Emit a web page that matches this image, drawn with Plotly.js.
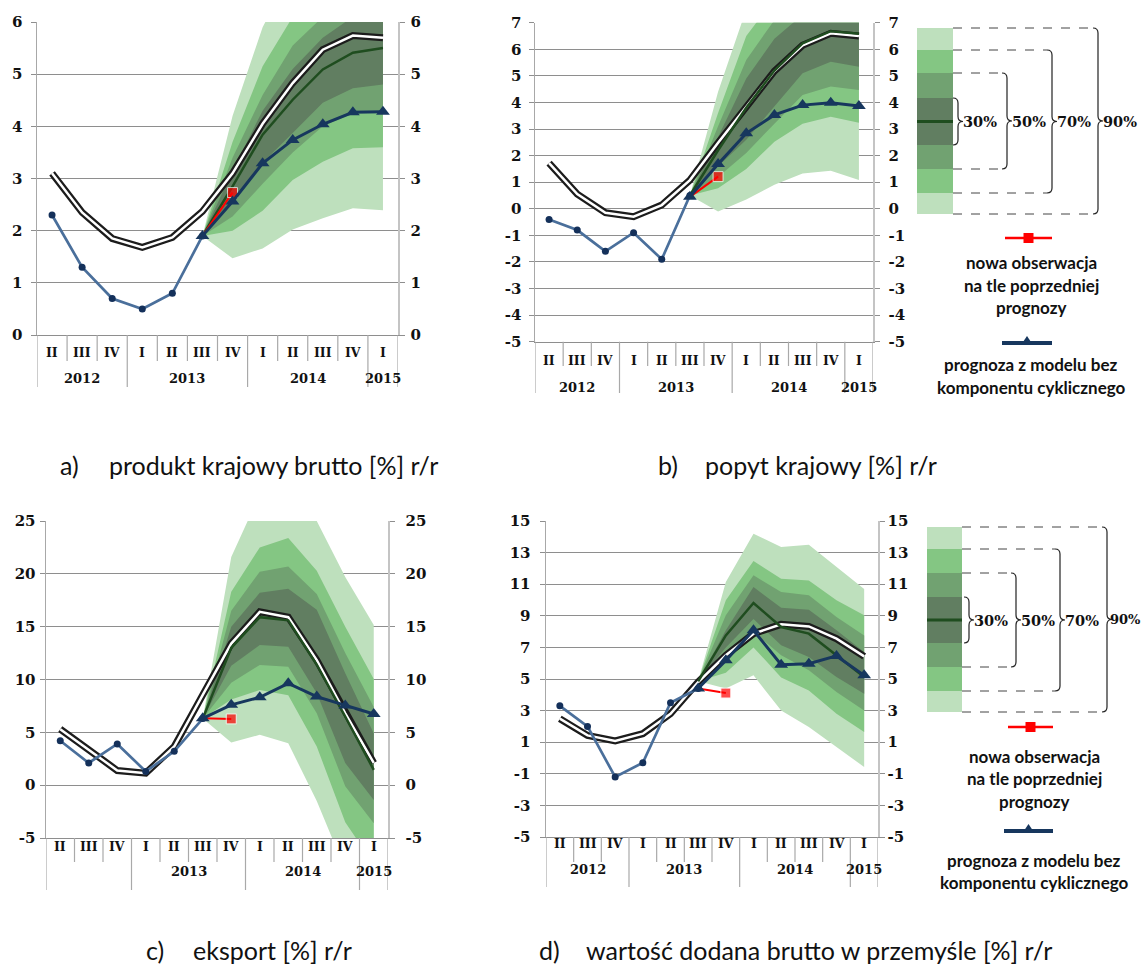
<!DOCTYPE html>
<html><head><meta charset="utf-8">
<script src="https://cdn.plot.ly/plotly-3.0.1.min.js"></script>
<style>html,body{margin:0;padding:0;background:#fff;}#chart{width:1141px;height:973px;}</style>
</head><body><div id="chart"></div>
<script>
// ---------- categories ----------
const quarterLabels = ['II','III','IV','I','II','III','IV','I','II','III','IV','I'];
const quarterYears  = ['2012','2012','2012','2013','2013','2013','2013','2014','2014','2014','2014','2015'];
const allX   = [0,1,2,3,4,5,6,7,8,9,10,11];
const histX  = [0,1,2,3,4,5];
const fcX    = [5,6,7,8,9,10,11];
const newObsX = [5,6];

// ---------- tick values per panel ----------
const gdpTicks = [0,1,2,3,4,5,6];
const ddTicks  = [-5,-4,-3,-2,-1,0,1,2,3,4,5,6,7];
const exTicks  = [-5,0,5,10,15,20,25];
const inTicks  = [-5,-3,-1,1,3,5,7,9,11,13,15];

// ---------- a) GDP ----------
const gdpHist    = [2.3, 1.3, 0.7, 0.5, 0.8, 1.9];
const gdpPrev    = [3.1, 2.35, 1.85, 1.68, 1.87, 2.37, 3.1, 4.05, 4.83, 5.47, 5.74, 5.7];
const gdpCentral = [1.9, 2.85, 3.84, 4.51, 5.09, 5.41, 5.5];
const gdpNoCycle = [1.9, 2.56, 3.29, 3.74, 4.04, 4.27, 4.28];
const gdpNewObs  = [1.9, 2.73];
const gdpLo90 = [1.9, 1.47, 1.66, 2.02, 2.24, 2.43, 2.39];
const gdpLo70 = [1.9, 2.0, 2.38, 2.97, 3.32, 3.58, 3.6];
const gdpLo50 = [1.9, 2.27, 2.9, 3.5, 4.0, 4.25, 4.3];
const gdpLo30 = [1.9, 2.55, 3.3, 3.87, 4.45, 4.73, 4.8];
const gdpHi30 = [1.9, 3.15, 4.3, 5.1, 5.7, 6.1, 6.2];
const gdpHi50 = [1.9, 3.4, 4.6, 5.55, 6.1, 6.6, 6.7];
const gdpHi70 = [1.9, 3.7, 5.15, 6.1, 6.9, 7.3, 7.4];
const gdpHi90 = [1.9, 4.2, 5.9, 7.0, 7.9, 8.4, 8.6];

// ---------- b) domestic demand ----------
const ddHist    = [-0.4, -0.8, -1.6, -0.9, -1.9, 0.5];
const ddPrev    = [1.72, 0.55, -0.15, -0.3, 0.14, 1.08, 2.48, 3.82, 5.18, 6.15, 6.6, 6.5];
const ddCentral = [0.5, 2.2, 3.8, 5.2, 6.22, 6.68, 6.58];
const ddNoCycle = [0.45, 1.68, 2.84, 3.53, 3.9, 3.99, 3.87];
const ddNewObs  = [0.45, 1.21];
const ddLo90 = [0.5, -0.1, 0.35, 0.9, 1.33, 1.43, 1.08];
const ddLo70 = [0.5, 0.77, 1.5, 2.52, 3.2, 3.46, 3.24];
const ddLo50 = [0.5, 1.2, 2.1, 3.2, 4.28, 4.6, 4.47];
const ddLo30 = [0.5, 1.6, 2.6, 3.84, 5.1, 5.53, 5.34];
const ddHi30 = [0.5, 2.7, 4.9, 6.4, 7.3, 7.8, 7.8];
const ddHi50 = [0.5, 3.1, 5.6, 7.1, 8.0, 8.7, 8.6];
const ddHi70 = [0.5, 3.6, 6.5, 7.9, 9.1, 9.8, 9.8];
const ddHi90 = [0.5, 4.4, 7.5, 9.0, 10.5, 11.2, 11.3];

// ---------- c) export ----------
const exHist    = [4.2, 2.1, 3.9, 1.3, 3.2, 6.3];
const exPrev    = [5.3, 3.34, 1.39, 1.14, 3.66, 8.54, 13.4, 16.4, 15.9, 11.84, 6.8, 2.1];
const exCentral = [6.3, 13.0, 15.9, 15.6, 11.4, 6.5, 1.45];
const exNoCycle = [6.33, 7.6, 8.32, 9.64, 8.38, 7.53, 6.74];
const exNewObs  = [6.33, 6.27];
const exLo90 = [6.3, 4.04, 4.76, 3.97, -1.5, -8.0, -12.0];
const exLo70 = [6.3, 8.1, 9.0, 8.5, 3.66, -3.5, -7.5];
const exLo50 = [6.3, 9.7, 11.37, 11.2, 6.8, -0.1, -3.6];
const exLo30 = [6.3, 11.3, 13.26, 13.1, 8.7, 2.1, -1.4];
const exHi30 = [6.3, 15.0, 18.2, 18.6, 16.6, 10.6, 4.9];
const exHi50 = [6.3, 16.5, 20.2, 20.7, 18.1, 12.5, 7.4];
const exHi70 = [6.3, 18.3, 22.5, 23.4, 20.3, 15.0, 10.05];
const exHi90 = [6.3, 21.6, 27.5, 28.0, 25.0, 19.7, 15.15];

// ---------- d) industry gross value added ----------
const inHist    = [3.3, 2.0, -1.2, -0.3, 3.5, 4.4];
const inPrev    = [2.49, 1.43, 1.08, 1.54, 2.8, 4.81, 6.5, 7.87, 8.46, 8.33, 7.55, 6.43];
const inCentral = [4.85, 7.76, 9.81, 8.29, 7.87, 6.5, 5.13];
const inNoCycle = [4.4, 6.18, 8.08, 5.9, 5.97, 6.46, 5.23];
const inNewObs  = [4.4, 4.11];
const inLo90 = [4.85, 4.4, 5.23, 3.0, 1.96, 0.7, -0.57];
const inLo70 = [4.85, 5.4, 7.0, 5.1, 4.28, 2.8, 1.65];
const inLo50 = [4.85, 6.2, 8.0, 6.5, 5.55, 4.18, 3.0];
const inLo30 = [4.85, 7.0, 8.8, 7.13, 6.4, 5.13, 4.07];
const inHi30 = [4.85, 8.08, 10.82, 9.51, 9.39, 8.08, 6.71];
const inHi50 = [4.85, 9.03, 11.56, 10.5, 10.3, 8.92, 7.76];
const inHi70 = [4.85, 9.98, 12.47, 11.35, 11.24, 9.98, 9.03];
const inHi90 = [4.85, 11.14, 14.2, 13.35, 13.5, 12.1, 10.7];

const captions = [
  ['a)', 'produkt krajowy brutto [%] r/r'],
  ['b)', 'popyt krajowy [%] r/r'],
  ['c)', 'eksport [%] r/r'],
  ['d)', 'wartość dodana brutto w przemyśle [%] r/r']
];
const bandLabels = ['30%', '50%', '70%', '90%'];
const legendNew = ['nowa obserwacja', 'na tle poprzedniej', 'prognozy'];
const legendNoCycle = ['prognoza z modelu bez', 'komponentu cyklicznego'];

// ---------- styles / geometry ----------
const W = 1141, H = 973;
const X = px => px / W, Y = py => 1 - py / H;
const C = {l:'#bee0bd', m:'#84c683', md:'#71a271', d:'#617e61', centre:'#1f4d1f',
           hist:'#4a6f9b', histDot:'#14305a', navy:'#17375e', red:'#ff0000', grid:'#8e8e8e'};
const tickFont = {family:'DejaVu Serif', size:15, color:'#111'};

const panels = [
  {xa:'x',  ya:'y',  yr:'y5', g:{x0:37, x1:398, y0:22,  y1:335}, range:[0,6], ticks:gdpTicks,
   qY:352, yrY:378, sY:361, lY:387, hide:[], capY:465, capX:[58,107], sl:5, sr:3,
   hist:gdpHist, prev:gdpPrev, central:gdpCentral, noCycle:gdpNoCycle, newObs:gdpNewObs,
   lo:[gdpLo90,gdpLo70,gdpLo50,gdpLo30], hi:[gdpHi90,gdpHi70,gdpHi50,gdpHi30]},
  {xa:'x2', ya:'y2', yr:'y6', g:{x0:535, x1:873, y0:22.7, y1:341.7}, range:[-5,7], ticks:ddTicks,
   qY:360, yrY:387, sY:366, lY:393, hide:[], capY:465, capX:[656,703], sl:4, sr:6,
   hist:ddHist, prev:ddPrev, central:ddCentral, noCycle:ddNoCycle, newObs:ddNewObs,
   lo:[ddLo90,ddLo70,ddLo50,ddLo30], hi:[ddHi90,ddHi70,ddHi50,ddHi30]},
  {xa:'x3', ya:'y3', yr:'y7', g:{x0:46, x1:388, y0:521, y1:838}, range:[-5,25], ticks:exTicks,
   qY:856, yrY:881, sY:862, lY:890, hide:['2012'], capY:950, capX:[144,191], sl:1, sr:8,
   hist:exHist, prev:exPrev, central:exCentral, noCycle:exNoCycle, newObs:exNewObs,
   lo:[exLo90,exLo70,exLo50,exLo30], hi:[exHi90,exHi70,exHi50,exHi30]},
  {xa:'x4', ya:'y4', yr:'y8', g:{x0:546, x1:878, y0:521, y1:837}, range:[-5,15], ticks:inTicks,
   qY:853, yrY:879, sY:862, lY:887, hide:[], capY:950, capX:[537,584], sl:6, sr:0,
   hist:inHist, prev:inPrev, central:inCentral, noCycle:inNoCycle, newObs:inNewObs,
   lo:[inLo90,inLo70,inLo50,inLo30], hi:[inHi90,inHi70,inHi50,inHi30]}
];

const traces = [];
const layout = {width:W, height:H, margin:{l:0,r:0,t:0,b:0}, showlegend:false,
  paper_bgcolor:'#fff', plot_bgcolor:'rgba(0,0,0,0)', annotations:[], shapes:[]};

const bandColors = [C.l, C.m, C.md, C.d];
panels.forEach((p, k) => {
  const base = {xaxis:p.xa, yaxis:p.ya, hoverinfo:'skip', showlegend:false, type:'scatter'};
  const polyX = fcX.concat(fcX.slice().reverse());
  for (let b = 0; b < 4; b++) {
    traces.push(Object.assign({}, base, {mode:'lines', x:polyX,
      y:p.hi[b].concat(p.lo[b].slice().reverse()), fill:'toself', fillcolor:bandColors[b],
      line:{width:0, color:bandColors[b]}}));
  }
  traces.push(Object.assign({}, base, {mode:'lines', x:allX, y:p.prev, line:{color:'#1c1c1c', width:7}}));
  traces.push(Object.assign({}, base, {mode:'lines', x:allX, y:p.prev, line:{color:'#ffffff', width:2.5}}));
  traces.push(Object.assign({}, base, {mode:'lines', x:fcX, y:p.central, line:{color:C.centre, width:2.5}}));
  traces.push(Object.assign({}, base, {mode:'lines+markers', x:histX, y:p.hist,
    line:{color:C.hist, width:2.7}, marker:{symbol:'circle', size:7, color:C.histDot}}));
  traces.push(Object.assign({}, base, {mode:'lines+markers', x:newObsX, y:p.newObs,
    line:{color:C.red, width:2}, marker:{symbol:'square', size:[0,10], color:C.red}}));
  traces.push(Object.assign({}, base, {mode:'lines+markers', x:fcX, y:p.noCycle,
    line:{color:C.navy, width:3}, marker:{symbol:'triangle-up', size:12, color:C.navy}}));
  traces.push({type:'scatter', mode:'lines', x:[0], y:[null], xaxis:p.xa, yaxis:p.yr, hoverinfo:'skip', showlegend:false});

  const n = k === 0 ? '' : String(k + 1);
  const xDom = [X(p.g.x0), X(p.g.x1)], yDom = [Y(p.g.y1), Y(p.g.y0)];
  const tt = p.ticks.map(v => '<b>' + String(v) + '</b>');
  layout['xaxis' + n] = {domain:xDom, range:[-0.5, 11.5], anchor:p.ya, showgrid:false, zeroline:false,
    showticklabels:false, ticks:'', showline:true, linecolor:C.grid, linewidth:1, fixedrange:true};
  layout['yaxis' + n] = {domain:yDom, range:p.range, anchor:p.xa, tickmode:'array', tickvals:p.ticks, ticktext:tt,
    showgrid:true, gridcolor:C.grid, gridwidth:1, zeroline:false, showline:true, linecolor:'#a8a8a8',
    linewidth:1.5, ticks:'outside', ticklen:5, tickcolor:C.grid, tickfont:tickFont, ticklabelstandoff:p.sl,
    fixedrange:true};
  layout['yaxis' + (k + 5)] = {domain:yDom, range:p.range, overlaying:p.ya, side:'right', anchor:p.xa,
    tickmode:'array', tickvals:p.ticks, ticktext:tt, showgrid:false, zeroline:false, showline:true,
    linecolor:'#c4c4c4', linewidth:1.5, ticks:'outside', ticklen:5, tickcolor:C.grid, tickfont:tickFont,
    ticklabelstandoff:p.sr, fixedrange:true};

  quarterLabels.forEach((q, i) => layout.annotations.push({xref:p.xa, yref:'paper', x:i, y:Y(p.qY),
    text:'<b>' + q + '</b>', showarrow:false, font:{family:'DejaVu Serif', size:12.5, color:'#111'}}));
  const years = [...new Set(quarterYears)];
  years.forEach(yr => {
    if (p.hide.includes(yr)) return;
    const idx = allX.filter(i => quarterYears[i] === yr);
    const cx = idx.reduce((s, v) => s + v, 0) / idx.length;
    layout.annotations.push({xref:p.xa, yref:'paper', x:cx, y:Y(p.yrY), text:'<b>' + yr + '</b>',
      showarrow:false, font:{family:'DejaVu Serif', size:13, color:'#111'}});
  });
  const seps = [{x:-0.5, long:true}];
  for (let i = 0; i < 11; i++) seps.push({x:i + 0.5, long:quarterYears[i] !== quarterYears[i + 1]});
  seps.push({x:11.5, long:true});
  seps.forEach(s => layout.shapes.push({type:'line', xref:p.xa, yref:'paper', x0:s.x, x1:s.x,
    y0:Y(p.g.y1), y1:Y(s.long ? p.lY : p.sY), line:{color:'#a9a9a9', width:1.2}}));

  layout.annotations.push({xref:'paper', yref:'paper', x:X(p.capX[0]), y:Y(p.capY), xanchor:'left',
    yanchor:'middle', text:captions[k][0], showarrow:false, font:{family:'Lato', size:25, color:'#111'}});
  layout.annotations.push({xref:'paper', yref:'paper', x:X(p.capX[1]), y:Y(p.capY), xanchor:'left',
    yanchor:'middle', text:captions[k][1], showarrow:false, font:{family:'Lato', size:25, color:'#111'}});
});

// ---------- fan legends (b and d) ----------
function fanLegend(L) {
  const cols = [C.l, C.m, C.md, C.d, C.md, C.m, C.l];
  for (let i = 0; i < 7; i++) layout.shapes.push({type:'rect', xref:'paper', yref:'paper',
    x0:X(L.bx0), x1:X(L.bx1), y0:Y(L.segs[i]), y1:Y(L.segs[i + 1]), fillcolor:cols[i], line:{width:0}});
  const mid = (L.segs[3] + L.segs[4]) / 2;
  layout.shapes.push({type:'line', xref:'paper', yref:'paper', x0:X(L.bx0), x1:X(L.bx1),
    y0:Y(mid), y1:Y(mid), line:{color:C.centre, width:3}});
  const pairs = [[3,4],[2,5],[1,6],[0,7]];
  pairs.forEach((pr, j) => {
    const yt = L.segs[pr[0]], yb = L.segs[pr[1]], bx = L.braceX[j], r = 5, ym = (yt + yb) / 2;
    if (j > 0) {
      [yt, yb].forEach(yy => layout.shapes.push({type:'line', xref:'paper', yref:'paper',
        x0:X(L.bx1), x1:X(bx - r), y0:Y(yy), y1:Y(yy), line:{color:'#444', width:1, dash:'dash'}}));
    }
    const P = (a, b) => X(a) + ',' + Y(b);
    const path = 'M ' + P(bx - r, yt) + ' Q ' + P(bx, yt) + ' ' + P(bx, yt + r) + ' L ' + P(bx, ym - r) +
      ' Q ' + P(bx, ym) + ' ' + P(bx + 5, ym) + ' Q ' + P(bx, ym) + ' ' + P(bx, ym + r) +
      ' L ' + P(bx, yb - r) + ' Q ' + P(bx, yb) + ' ' + P(bx - r, yb);
    layout.shapes.push({type:'path', xref:'paper', yref:'paper', path:path, line:{color:'#222', width:1.2}});
    const last = (j === 3 && L.tight);
    layout.annotations.push({xref:'paper', yref:'paper', x:X(bx + (last ? 1 : 3)), y:Y(ym), xanchor:'left',
      yanchor:'middle', text:'<b>' + bandLabels[j] + '</b>', showarrow:false,
      font:{family:'DejaVu Serif', size:last ? 13 : 14.5, color:'#111'}});
  });
  layout.shapes.push({type:'line', xref:'paper', yref:'paper', x0:X(L.rx0), x1:X(L.rx1), y0:Y(L.redY), y1:Y(L.redY),
    line:{color:C.red, width:2.5}});
  const rc = (L.rx0 + L.rx1) / 2;
  layout.shapes.push({type:'rect', xref:'paper', yref:'paper', x0:X(rc - 5), x1:X(rc + 5), y0:Y(L.redY - 5),
    y1:Y(L.redY + 5), fillcolor:C.red, line:{width:0}});
  legendNew.forEach((t, i) => layout.annotations.push({xref:'paper', yref:'paper', x:X(L.tx), y:Y(L.newY[i]),
    xanchor:'center', yanchor:'middle',
    text:'<b>' + t + '</b>', showarrow:false, font:{family:'Lato', size:17, color:'#111'}}));
  layout.shapes.push({type:'line', xref:'paper', yref:'paper', x0:X(L.nx0), x1:X(L.rx1), y0:Y(L.navyY), y1:Y(L.navyY),
    line:{color:C.navy, width:4}});
  const nc = (L.nx0 + L.rx1) / 2;
  layout.shapes.push({type:'path', xref:'paper', yref:'paper',
    path:'M ' + X(nc - 6) + ',' + Y(L.navyY + 2) + ' L ' + X(nc) + ',' + Y(L.navyY - 7) + ' L ' + X(nc + 6) + ',' + Y(L.navyY + 2) + ' Z',
    fillcolor:C.navy, line:{width:0}});
  legendNoCycle.forEach((t, i) => layout.annotations.push({xref:'paper', yref:'paper', x:X(L.tx), y:Y(L.ncY[i]),
    xanchor:'center', yanchor:'middle',
    text:'<b>' + t + '</b>', showarrow:false, font:{family:'Lato', size:17, color:'#111'}}));
}
fanLegend({bx0:917, bx1:953, segs:[28,50,73,98,145,169,193,214], braceX:[958,1007,1052,1098],
  rx0:1005, rx1:1052, redY:238, nx0:1002, navyY:343, tx:1031, newY:[262,285,307], ncY:[364,388], tight:false});
fanLegend({bx0:927, bx1:962, segs:[527,549,573,597,643,667,691,712], braceX:[969,1016,1060,1107],
  rx0:1008, rx1:1053, redY:727, nx0:1004, navyY:831, tx:1034, newY:[756,778,801], ncY:[860,882], tight:true});

Plotly.newPlot('chart', traces, layout, {staticPlot:true, displayModeBar:false});
</script></body></html>
